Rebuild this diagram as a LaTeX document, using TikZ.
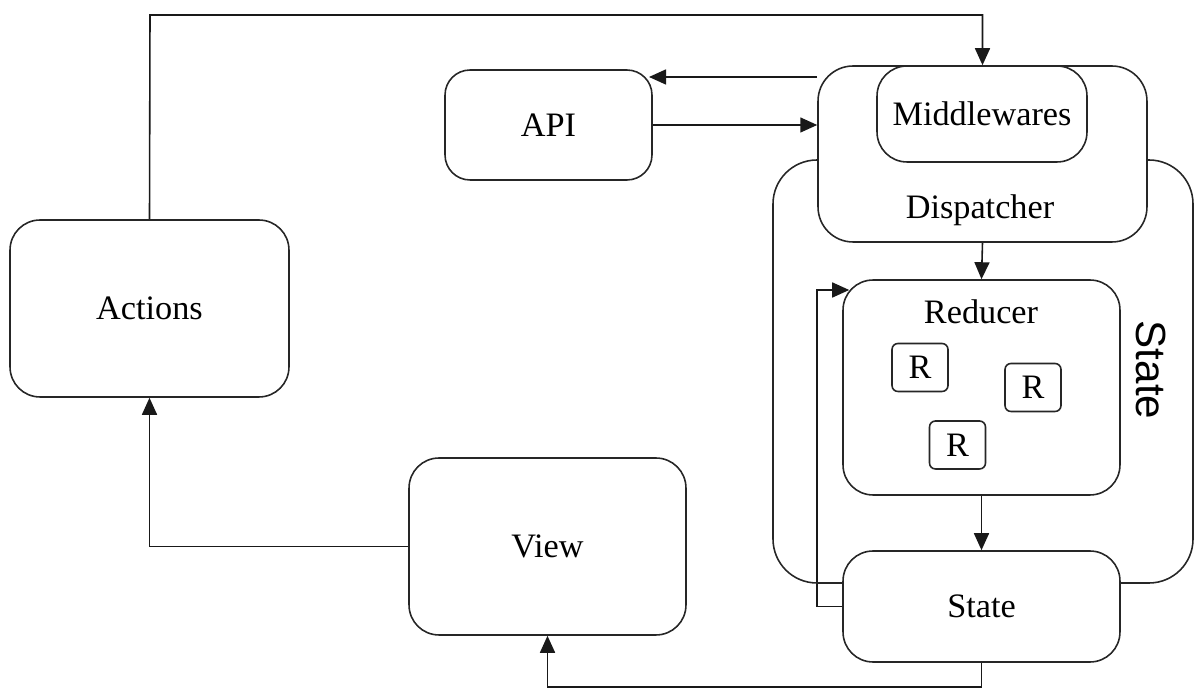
\documentclass[tikz,border=0pt]{standalone}
\usepackage{fontspec}
\setmainfont{Liberation Serif}
\setsansfont{Liberation Sans}
\usetikzlibrary{arrows.meta, positioning, backgrounds}

\begin{document}
\begin{tikzpicture}[x=0.02cm, y=-0.02cm,
    font=\fontsize{19.5}{23}\selectfont,
    box/.style={draw=black!85, line width=0.9pt, fill=white, rounded corners=0.6cm},
    rbox/.style={draw=black!85, line width=0.9pt, fill=white, rounded corners=0.12cm,
      minimum width=1.12cm, minimum height=0.96cm, inner sep=0pt},
    flow/.style={draw=black!90, line width=0.9pt, -{Triangle[length=0.34cm,width=0.3cm]}},
    link/.style={draw=black!85, line width=0.9pt}]
  \useasboundingbox (0,0) rectangle (1194,688);
  % State container
  \draw[link, rounded corners=0.88cm] (773,160) rectangle (1193,583);
  \node[font=\sffamily\fontsize{24}{28}\selectfont, rotate=-90] (statelabel) at (1151,370) {State};
  % Boxes
  \node[box, minimum width=5.58cm, minimum height=3.54cm] (actions) at (149.5,308.5) {Actions};
  \node[box, rounded corners=0.5cm, minimum width=4.14cm, minimum height=2.2cm] (api) at (548.5,125) {API};
  \node[box, rounded corners=0.7cm, minimum width=6.58cm, minimum height=3.52cm] (disp) at (982.5,154) {};
  \node (displabel) at (980,210) {Dispatcher};
  \node[box, minimum width=4.2cm, minimum height=1.92cm] (mid) at (982,114) {Middlewares};
  \node[box, minimum width=5.54cm, minimum height=4.3cm] (reducer) at (981.5,387.5) {};
  \node (reducerlabel) at (981,312) {Reducer};
  \node[rbox] (r1) at (920,367.5) {R};
  \node[rbox] (r2) at (1033,387.5) {R};
  \node[rbox] (r3) at (957.5,445) {R};
  \node[box, minimum width=5.54cm, minimum height=2.22cm] (state) at (981.5,606.5) {State};
  \node[box, minimum width=5.54cm, minimum height=3.54cm] (view) at (547.5,546.5) {View};
  % Connectors
  \coordinate (topbend) at (150,15);
  \coordinate (apiin) at (649,77);
  \coordinate (loopleft) at (817,290);
  \begin{scope}[on background layer]
    \draw[flow] (actions.north) -- (topbend) -| (disp.north);
    \draw[flow] (disp.west |- apiin) -- (apiin);
    \draw[flow] (api.east) -- (disp.west |- api.east);
    \draw[flow] (disp.south) -- (reducer.north);
    \draw[flow] (reducer.south) -- (state.north);
    \draw[flow] (state.west) -| (loopleft) -- ([xshift=0.14cm]reducer.west |- loopleft);
    \draw[flow] (state.south) -- ++(0,24) -| (view.south);
    \draw[flow] (view.west) -| (actions.south);
  \end{scope}
\end{tikzpicture}
\end{document}
